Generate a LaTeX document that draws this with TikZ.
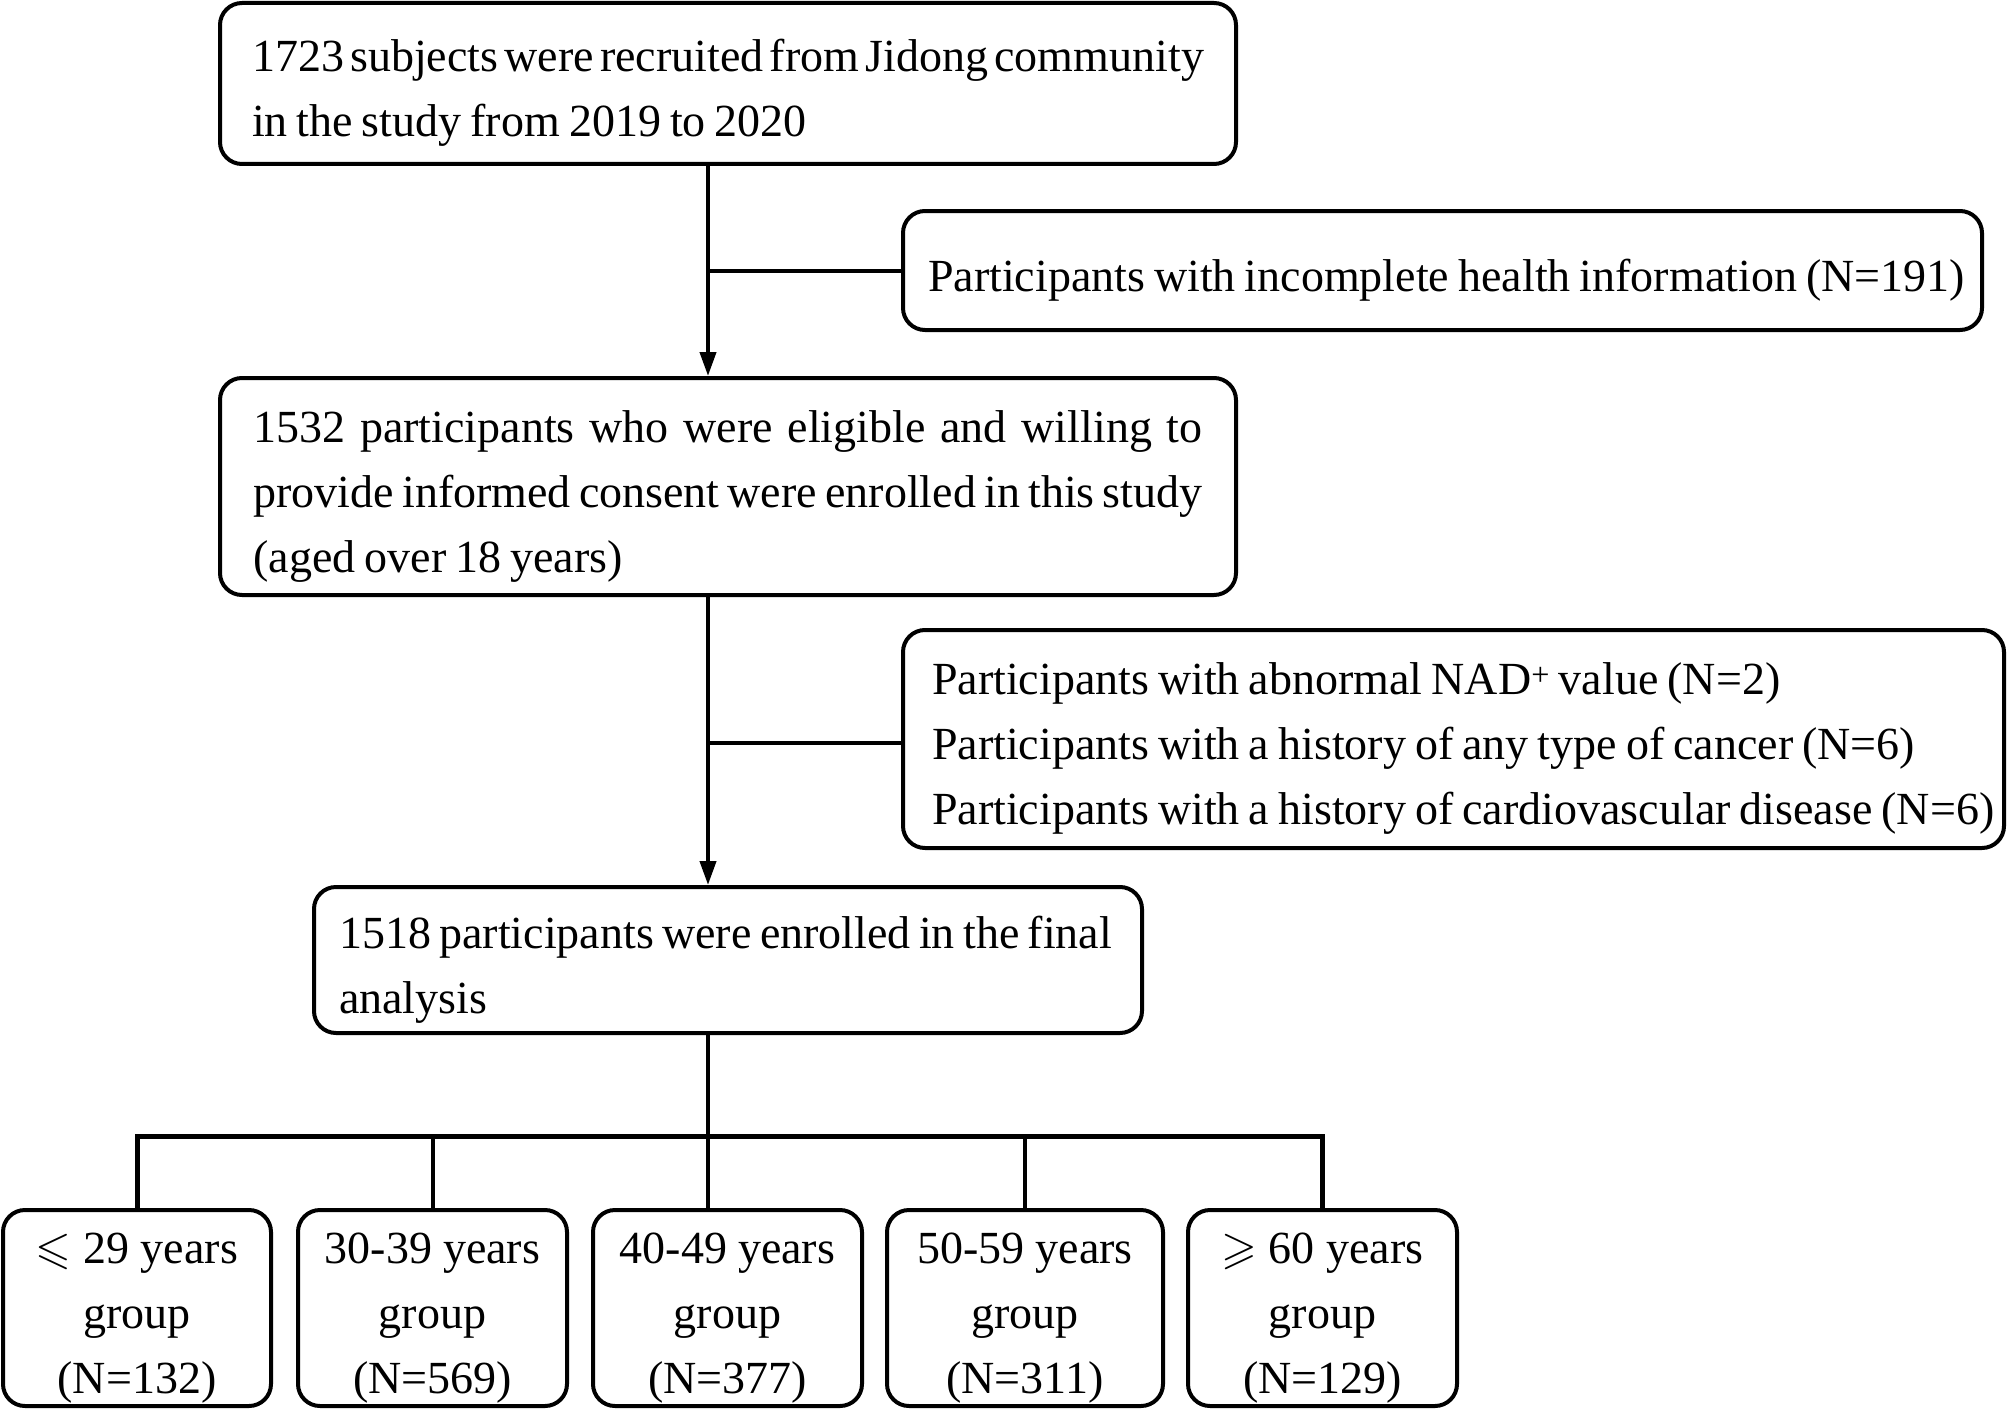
\documentclass[tikz,border=0pt]{standalone}
\usepackage{fontspec}
\setmainfont{Liberation Serif}
\usepackage{amssymb}
\usetikzlibrary{arrows.meta}
\newcommand\tstrut{\spaceskip=9pt plus 8pt minus 3.2pt\relax\xspaceskip=9pt\relax\rule{0pt}{53pt}}
\newcommand\bstrut{\rule[-12pt]{0pt}{12pt}}
\newcommand\boxfont{\fontsize{46}{65}\selectfont}
\begin{document}
\begin{tikzpicture}[x=1pt,y=-1pt,
  box/.style={draw, line width=4pt, rounded corners=22pt, inner sep=0pt,
    font=\boxfont},
  conn/.style={line width=4pt},
  arr/.style={conn, -{Triangle[length=24pt,width=16pt]}},
  grp/.style={box, minimum height=196pt, text width=262pt, align=center}
]
\useasboundingbox (0,0) rectangle (2008,1410);

\node[box, minimum width=1016pt, minimum height=161pt, text width=952pt, align=left] (b1) at (728,83.5)
  {\tstrut\makebox[952pt][s]{1723 subjects were recruited from Jidong community}\\
   \mbox{in the study from 2019 to 2020}\bstrut};

\node[box, minimum width=1079pt, minimum height=119pt, text width=1029pt, align=left] (e1) at (1442.5,270.5)
  {\tstrut\mbox{Participants with incomplete health information (N=191)}\bstrut};

\node[box, minimum width=1016pt, minimum height=217pt, text width=949pt, align=left] (b2) at (728,486.5)
  {\tstrut\makebox[949pt][s]{1532 participants who were eligible and willing to}\\
   \makebox[949pt][s]{provide informed consent were enrolled in this study}\\
   \mbox{(aged over 18 years)}\bstrut};

\node[box, minimum width=1101pt, minimum height=218pt, text width=1043pt, align=left] (e2) at (1453.5,739)
  {\tstrut\mbox{Participants with abnormal NAD\textsuperscript{+} value (N=2)}\\
   \mbox{Participants with a history of any type of cancer (N=6)}\\
   \mbox{Participants with a history of cardiovascular disease (N=6)}\bstrut};

\node[box, minimum width=828pt, minimum height=146pt, text width=778pt, align=left] (b3) at (728,960)
  {\tstrut\makebox[773pt][s]{1518 participants were enrolled in the final}\\
   \mbox{analysis}\bstrut};

\node[grp, minimum width=268pt] (g1) at (137,1308) {\tstrut$\leqslant$ 29 years\\group\\(N=132)\bstrut};
\node[grp, minimum width=269pt] (g2) at (432.5,1308) {\tstrut 30-39 years\\group\\(N=569)\bstrut};
\node[grp, minimum width=269pt] (g3) at (727.5,1308) {\tstrut 40-49 years\\group\\(N=377)\bstrut};
\node[grp, minimum width=276pt] (g4) at (1025,1308) {\tstrut 50-59 years\\group\\(N=311)\bstrut};
\node[grp, minimum width=269pt] (g5) at (1322.5,1308) {\tstrut$\geqslant$ 60 years\\group\\(N=129)\bstrut};

\coordinate (sp) at (708,0);
\coordinate (bus) at (0,1136);

\draw[arr] (b1.south -| sp) -- (b2.north -| sp);
\draw[conn] (sp |- e1.west) -- (e1.west);
\draw[arr] (b2.south -| sp) -- (b3.north -| sp);
\draw[conn] (sp |- 0,743) -- (e2.west |- 0,743);
\draw[conn] (b3.south -| sp) -- (sp |- g3.north);
\draw[conn, line width=5pt] (g1.north) |- (bus -| g5.north) -- (g5.north);
\draw[conn] (g2.north) -- (g2.north |- bus);
\draw[conn] (g4.north) -- (g4.north |- bus);
\end{tikzpicture}
\end{document}
